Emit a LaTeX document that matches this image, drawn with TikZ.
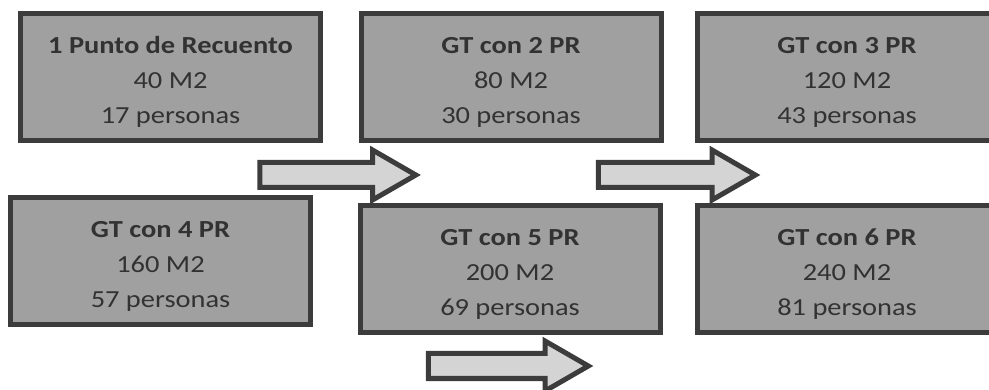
\documentclass[tikz,border=0pt]{standalone}
\usepackage{xcolor}
\usepackage{fontspec}
\usepackage{tikz}
\usetikzlibrary{shapes, shapes.arrows, positioning}
\newfontfamily\boxfont[FakeStretch=1.16]{Carlito}
\definecolor{boxline}{RGB}{60,60,60}
\definecolor{boxfill}{RGB}{160,160,160}
\definecolor{boxtext}{RGB}{50,50,50}
\definecolor{arrfill}{RGB}{212,212,212}
\newcommand{\prtext}[3]{\rule{0pt}{26pt}\textbf{#1}\\#2\\#3}
\tikzset{
	prbox/.style={draw=boxline, fill=boxfill, line width=5pt, minimum width=300pt, minimum height=127pt, inner sep=0pt, align=center, text=boxtext, font={\boxfont\fontsize{24.5}{35}\selectfont}},
	steparrow/.style={single arrow, draw=boxline, fill=arrfill, line width=5pt, inner xsep=0pt, inner ysep=10pt, single arrow head extend=12.5pt, single arrow tip angle=60}
}

\begin{document}
\begin{tikzpicture}[x=1pt, y=-1pt]
			\useasboundingbox (0,0) rectangle (989,390);
			\clip (0,0) rectangle (989,390);
			
			\node [prbox] (pr1) at (170.5,77) {\prtext{1 Punto de Recuento}{40 M2}{17 personas}};
			\node [prbox] (pr2) at (511,77) {\prtext{GT con 2 PR}{80 M2}{30 personas}};
			\node [prbox] (pr3) at (847,77) {\prtext{GT con 3 PR}{120 M2}{43 personas}};
			
			\node [prbox] (pr4) at (160.5,261) {\prtext{GT con 4 PR}{160 M2}{57 personas}};
			\node [prbox] (pr5) at (510,269) {\prtext{GT con 5 PR}{200 M2}{69 personas}};
			\node [prbox] (pr6) at (847,269) {\prtext{GT con 6 PR}{240 M2}{81 personas}};
			
			\node [steparrow, minimum height=156pt] (arr12) at (327,175) {};
			\node [steparrow, minimum height=157pt] (arr23) at (666,175) {};
			\node [steparrow, minimum height=160pt] (arr45) at (497.5,366) {};
\end{tikzpicture}
\end{document}
